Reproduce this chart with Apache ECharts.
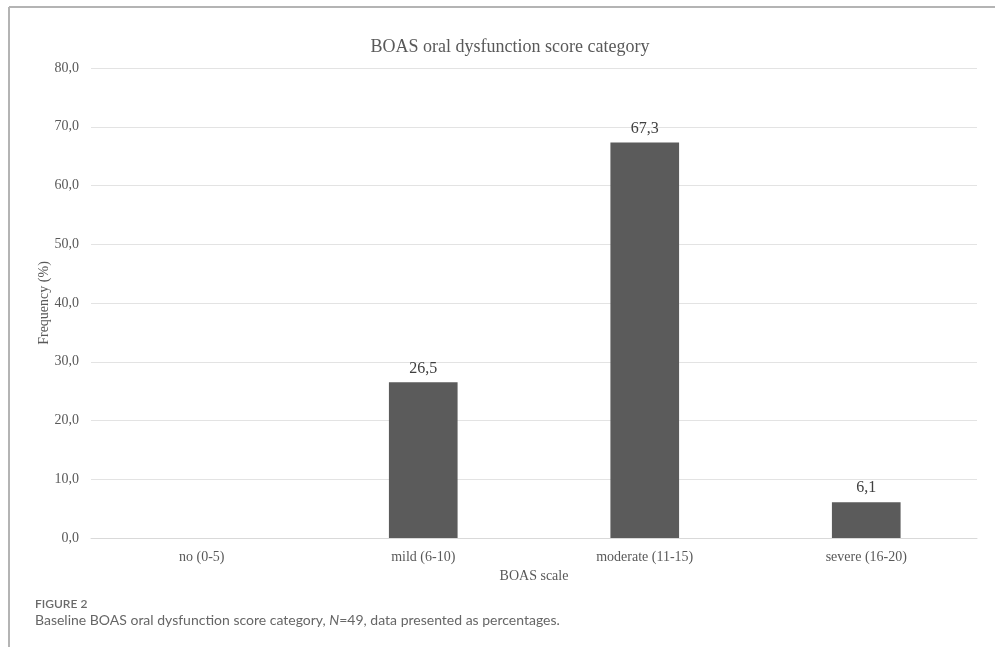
<!DOCTYPE html>
<html>
<head>
<meta charset="utf-8">
<script src="https://cdn.jsdelivr.net/npm/echarts@6/dist/echarts.min.js"></script>
<style>
  html, body { margin: 0; padding: 0; background: #fff; }
  #chart { width: 995px; height: 647px; }
</style>
</head>
<body>
<div id="chart"></div>
<script>
// BOAS oral dysfunction categories and the share of patients in each (%)
const categories = ['no (0-5)', 'mild (6-10)', 'moderate (11-15)', 'severe (16-20)'];
const frequency = [0, 26.5, 67.3, 6.1];
const yTicks = { min: 0, max: 80, interval: 10 };

const chartTitle = 'BOAS oral dysfunction score category';
const xAxisName = 'BOAS scale';
const yAxisName = 'Frequency (%)';
const figureLabel = 'FIGURE 2';
const captionParts = ['Baseline BOAS oral dysfunction score category, ', 'N', '=49, data presented as percentages.'];

const serif = '"Liberation Serif", "Times New Roman", serif';
const sans = 'Lato, "Open Sans", sans-serif';
const comma = v => v.toFixed(1).replace('.', ',');

const chart = echarts.init(document.getElementById('chart'));
chart.setOption({
  animation: false,
  title: {
    text: chartTitle,
    left: 505,
    textAlign: 'center',
    top: 33,
    textStyle: { fontFamily: serif, fontSize: 18, fontWeight: 'normal', color: '#595959' }
  },
  grid: { left: 91, right: 18, top: 68, bottom: 109, containLabel: false },
  xAxis: {
    type: 'category',
    data: categories,
    name: xAxisName,
    nameLocation: 'middle',
    nameGap: 30,
    nameTextStyle: { fontFamily: serif, fontSize: 14, color: '#595959' },
    axisLine: { lineStyle: { color: '#d9d9d9', width: 1 } },
    axisTick: { show: false },
    axisLabel: { fontFamily: serif, fontSize: 14, color: '#595959', margin: 12 }
  },
  yAxis: {
    type: 'value',
    min: yTicks.min,
    max: yTicks.max,
    interval: yTicks.interval,
    name: yAxisName,
    nameLocation: 'middle',
    nameGap: 40,
    nameMoveOverlap: false,
    nameTextStyle: { fontFamily: serif, fontSize: 14, color: '#595959' },
    axisLine: { show: false },
    axisTick: { show: false },
    axisLabel: { fontFamily: serif, fontSize: 14, color: '#595959', margin: 12, formatter: comma },
    splitLine: { lineStyle: { color: '#e3e3e3', width: 1 } }
  },
  series: [{
    type: 'bar',
    data: frequency,
    barWidth: '31%',
    itemStyle: { color: '#5b5b5b' },
    label: {
      show: true,
      position: 'top',
      distance: 6,
      fontFamily: serif,
      fontSize: 16,
      color: '#404040',
      formatter: p => (p.value > 0 ? comma(p.value) : '')
    }
  }],
  graphic: [
    // figure frame: top and left rules
    { type: 'line', shape: { x1: 9, y1: 7, x2: 995, y2: 7 }, style: { stroke: '#b4b4b4', lineWidth: 2 } },
    { type: 'line', shape: { x1: 9, y1: 7, x2: 9, y2: 647 }, style: { stroke: '#b4b4b4', lineWidth: 2 } },
    {
      type: 'text', left: 35, top: 598,
      style: { text: figureLabel, font: '600 12px ' + sans, fill: '#6a6a6a' }
    },
    {
      type: 'text', left: 35, top: 613,
      style: {
        text: '{a|' + captionParts[0] + '}{i|' + captionParts[1] + '}{a|' + captionParts[2] + '}',
        rich: {
          a: { fontFamily: sans, fontSize: 14, fill: '#666666' },
          i: { fontFamily: sans, fontSize: 14, fontStyle: 'italic', fill: '#666666' }
        }
      }
    }
  ]
});
</script>
</body>
</html>
